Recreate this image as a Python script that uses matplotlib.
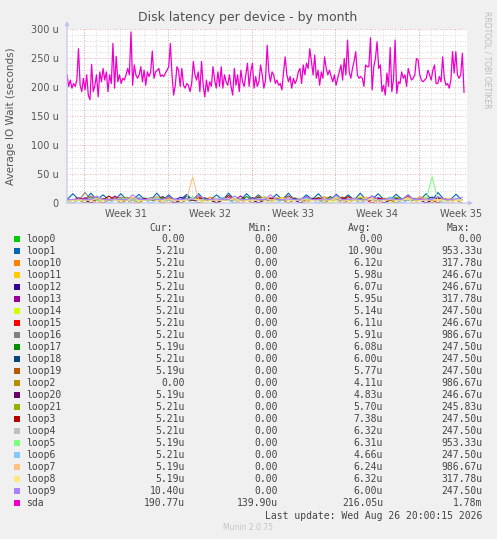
import numpy as np
import matplotlib
matplotlib.use('Agg')
from matplotlib import pyplot as plt
from matplotlib.patches import Rectangle

plt.rcParams['font.family'] = ['DejaVu Sans']

# --- data (values in micro seconds) ---
# sda, roughly every 3.3 hours over the 33 shown days
sda = [221, 201, 212, 198, 206, 201, 212, 266, 203, 192, 215, 195, 221, 186, 178, 239, 192, 203, 221, 183,
       226, 209, 232, 212, 226, 192, 221, 206, 275, 198, 253, 209, 221, 206, 215, 212, 221, 232, 221, 295,
       203, 238, 221, 215, 221, 235, 209, 229, 203, 226, 218, 226, 262, 215, 226, 229, 232, 218, 221, 218,
       224, 229, 235, 275,
       221, 186, 203, 235, 229, 201, 232, 203, 198, 206, 203, 192, 206, 244, 221, 212, 226, 192, 244, 203,
       183, 212, 192, 209, 201, 235, 212, 198, 226, 201, 235, 198, 221, 209, 203, 221, 201, 186, 232, 203,
       221, 192, 229, 209, 201, 221, 241, 201, 226, 241, 198, 218, 201, 209, 238, 221, 198, 212, 272, 226,
       209, 226, 221, 206, 212, 203, 206, 195, 226, 252, 221, 209, 218, 198, 215, 206, 212, 226, 232, 206,
       238, 221, 241, 232, 266, 244, 221, 255, 215, 229, 203, 226, 215, 252, 232, 221, 229, 218, 209, 221,
       203, 215, 226, 238, 212, 249, 221, 281, 226, 215, 232, 244, 261, 221, 215, 218, 215, 201, 238, 235,
       235, 285, 195, 235, 249, 278, 232, 238, 192, 203, 186, 224, 201, 268, 192, 212, 281, 189, 209, 206,
       226, 215, 221, 201, 232, 221, 212, 215, 221, 249, 247, 221, 212, 209, 212, 215, 229, 221, 212, 229,
       238, 206, 206, 218, 209, 252, 215, 203, 206, 198, 212, 261, 224, 261, 221, 215, 221, 258, 191]

# loops: one value every 12 h
loop0 = [0, 0, 0, 0, 0, 0, 0, 0, 0, 0, 0, 0, 0, 0, 0, 0, 0, 0, 0, 0, 0, 0, 0, 0, 0, 0, 0, 0, 0, 0, 0, 0, 0,
         0, 0, 0, 0, 0, 0, 0, 0, 0, 0, 0, 0, 0, 0, 0, 0, 0, 0, 0, 0, 0, 0, 0, 0, 0, 0, 0, 0, 0, 0, 0, 0, 0, 0]
loop1 = [6, 16, 5, 5, 17, 5, 14, 6, 5, 16, 5, 5, 15, 6, 5, 17, 5, 14, 5, 6, 15, 5, 16, 5, 6, 14, 5, 17, 5, 5, 16, 6, 14,
         5, 5, 15, 6, 17, 5, 5, 14, 6, 16, 5, 5, 15, 6, 14, 5, 17, 5, 6, 16, 5, 5, 15, 6, 14, 5, 5, 16, 5, 18, 6, 5, 15, 5]
loop10 = [5, 5, 7, 5, 12, 5, 5, 6, 5, 9, 5, 5, 6, 5, 5, 11, 5, 6, 5, 5, 8, 5, 5, 5, 10, 5, 6, 5, 5, 7, 5, 5, 12,
          5, 5, 6, 5, 5, 9, 5, 5, 6, 5, 11, 5, 5, 5, 7, 5, 5, 10, 5, 6, 5, 5, 8, 5, 5, 5, 11, 5, 6, 5, 5, 7, 5, 5]
loop11 = [5, 6, 5, 5, 9, 5, 0, 5, 7, 5, 5, 10, 5, 6, 5, 5, 5, 8, 5, 5, 6, 5, 11, 5, 5, 0, 7, 5, 5, 6, 5, 9, 5,
          5, 5, 6, 10, 5, 5, 5, 7, 5, 5, 6, 5, 9, 5, 0, 5, 11, 5, 6, 5, 5, 5, 8, 5, 5, 6, 5, 10, 5, 5, 5, 7, 5, 5]
loop12 = [5, 5, 6, 5, 5, 8, 5, 5, 5, 6, 9, 5, 5, 6, 5, 5, 7, 5, 5, 10, 5, 5, 6, 5, 5, 5, 8, 5, 5, 6, 5, 9, 5,
          5, 5, 7, 5, 5, 6, 5, 10, 5, 5, 5, 6, 5, 8, 5, 5, 5, 6, 5, 9, 5, 5, 6, 5, 5, 7, 5, 5, 5, 10, 5, 6, 5, 5]
loop13 = [6, 5, 5, 9, 5, 5, 6, 5, 12, 5, 5, 5, 7, 5, 5, 6, 11, 5, 5, 5, 6, 5, 5, 9, 5, 5, 6, 5, 5, 12, 5, 6, 5,
          5, 8, 5, 5, 5, 6, 5, 11, 5, 5, 6, 5, 5, 9, 5, 5, 5, 6, 12, 5, 5, 5, 7, 5, 5, 6, 5, 5, 10, 5, 5, 6, 5, 5]
loop14 = [5, 0, 5, 6, 5, 5, 8, 5, 5, 5, 6, 5, 0, 9, 5, 5, 5, 6, 5, 5, 7, 5, 5, 0, 5, 6, 5, 8, 5, 5, 5, 6, 5,
          5, 0, 7, 5, 5, 5, 6, 5, 9, 5, 5, 0, 5, 6, 5, 5, 8, 5, 5, 5, 6, 0, 5, 5, 7, 5, 5, 6, 5, 0, 5, 5, 6, 5]
loop15 = [5, 5, 5, 7, 5, 0, 5, 6, 5, 10, 5, 5, 6, 5, 5, 8, 5, 0, 5, 6, 5, 5, 11, 5, 5, 6, 5, 5, 7, 0, 5, 6, 5,
          5, 9, 5, 5, 6, 5, 5, 0, 7, 5, 5, 6, 5, 10, 5, 5, 6, 5, 0, 5, 8, 5, 5, 6, 5, 5, 9, 5, 5, 0, 6, 5, 5, 5]
loop16 = [5, 6, 5, 18, 6, 5, 5, 7, 5, 5, 6, 5, 9, 5, 5, 6, 5, 5, 7, 5, 5, 10, 5, 6, 5, 5, 5, 8, 5, 5, 6, 5, 5,
          9, 5, 5, 6, 5, 7, 5, 5, 5, 6, 5, 10, 5, 5, 6, 5, 5, 7, 5, 5, 5, 9, 5, 6, 5, 5, 6, 5, 8, 5, 5, 6, 5, 5]
loop17 = [5, 5, 6, 5, 5, 9, 5, 5, 6, 5, 5, 7, 5, 5, 6, 5, 10, 5, 5, 5, 6, 5, 5, 8, 5, 5, 6, 5, 5, 5, 11, 5, 5,
          6, 5, 5, 7, 5, 5, 6, 5, 5, 9, 5, 5, 6, 5, 5, 5, 8, 5, 5, 6, 5, 10, 5, 5, 5, 6, 5, 5, 7, 5, 5, 6, 5, 5]
loop18 = [6, 5, 5, 5, 10, 5, 6, 5, 5, 7, 5, 5, 6, 5, 9, 5, 5, 5, 6, 5, 12, 5, 5, 6, 5, 5, 7, 5, 5, 5, 6, 5, 10,
          5, 5, 6, 5, 5, 8, 5, 5, 6, 5, 5, 11, 5, 5, 6, 5, 5, 7, 5, 5, 5, 6, 9, 5, 5, 6, 5, 5, 10, 5, 5, 6, 5, 5]
loop19 = [5, 5, 7, 5, 5, 6, 5, 5, 9, 5, 6, 5, 5, 5, 8, 5, 5, 6, 5, 5, 5, 10, 5, 5, 6, 5, 5, 7, 5, 5, 6, 5, 5,
          9, 5, 5, 5, 6, 5, 8, 5, 5, 6, 5, 5, 5, 10, 5, 5, 6, 5, 7, 5, 5, 5, 6, 5, 9, 5, 5, 6, 5, 5, 8, 5, 5, 5]
loop2 = [0, 5, 5, 0, 6, 5, 0, 5, 7, 0, 5, 5, 0, 6, 5, 5, 0, 8, 5, 0, 5, 6, 0, 5, 5, 0, 7, 5, 0, 5, 6, 0, 5,
         5, 0, 9, 5, 0, 5, 6, 0, 5, 5, 0, 7, 5, 0, 5, 6, 0, 5, 5, 0, 8, 5, 0, 5, 6, 0, 5, 5, 0, 7, 5, 0, 5, 0]
loop20 = [5, 5, 6, 5, 0, 5, 7, 5, 5, 6, 5, 0, 5, 8, 5, 5, 6, 5, 0, 5, 7, 5, 5, 6, 5, 0, 5, 9, 5, 5, 6, 5, 0,
          5, 7, 5, 5, 6, 5, 0, 5, 8, 5, 5, 6, 5, 0, 5, 7, 5, 5, 6, 5, 0, 5, 9, 5, 5, 6, 5, 0, 5, 7, 5, 5, 6, 5]
loop21 = [5, 6, 5, 5, 8, 5, 5, 6, 5, 5, 10, 5, 5, 6, 5, 5, 7, 5, 5, 6, 5, 5, 9, 5, 5, 6, 5, 5, 8, 5, 5, 6, 5,
          11, 5, 5, 6, 5, 5, 7, 5, 5, 6, 5, 9, 5, 5, 6, 5, 5, 8, 5, 5, 6, 5, 10, 5, 5, 6, 5, 5, 7, 5, 5, 6, 5, 5]
loop3 = [6, 5, 9, 5, 5, 6, 5, 12, 5, 5, 6, 5, 8, 5, 5, 6, 5, 11, 5, 5, 6, 5, 9, 5, 5, 6, 5, 13, 5, 5, 6, 5, 8,
         5, 5, 6, 5, 12, 5, 5, 6, 5, 9, 5, 5, 6, 5, 11, 5, 5, 6, 5, 8, 5, 5, 6, 5, 12, 5, 5, 6, 5, 9, 5, 5, 6, 5]
loop4 = [5, 5, 6, 5, 9, 5, 5, 6, 5, 5, 8, 5, 5, 6, 5, 10, 5, 5, 6, 5, 5, 7, 5, 5, 6, 5, 9, 5, 5, 6, 5, 5, 8,
         5, 5, 6, 5, 10, 5, 5, 6, 5, 5, 7, 5, 5, 6, 5, 9, 5, 5, 6, 5, 5, 8, 5, 5, 6, 5, 10, 5, 5, 6, 5, 5, 7, 5]
loop5 = [5, 6, 5, 5, 7, 5, 5, 6, 5, 9, 5, 5, 6, 5, 5, 8, 5, 5, 6, 5, 5, 10, 5, 5, 6, 5, 5, 7, 5, 5, 6, 5, 5,
         9, 5, 5, 6, 5, 5, 8, 5, 5, 6, 5, 5, 10, 5, 5, 6, 5, 5, 7, 5, 5, 6, 5, 5, 9, 5, 5, 6, 45, 5, 5, 6, 5, 5]
loop6 = [5, 0, 6, 5, 5, 8, 5, 0, 5, 6, 5, 5, 9, 5, 0, 5, 6, 5, 5, 7, 5, 0, 5, 6, 5, 5, 10, 5, 0, 5, 6, 5, 5,
         8, 5, 0, 5, 6, 5, 5, 9, 5, 0, 5, 6, 5, 5, 7, 5, 0, 5, 6, 5, 5, 10, 5, 0, 5, 6, 5, 5, 8, 5, 0, 5, 6, 5]
loop7 = [5, 5, 6, 5, 5, 8, 5, 5, 6, 5, 5, 9, 5, 5, 6, 5, 5, 7, 5, 5, 6, 45, 5, 5, 6, 5, 5, 8, 5, 5, 6, 5, 5,
         10, 5, 5, 6, 5, 5, 7, 5, 5, 6, 5, 5, 9, 5, 5, 6, 5, 5, 8, 5, 5, 6, 5, 5, 10, 5, 5, 6, 5, 5, 7, 5, 5, 5]
loop8 = [0, 5, 5, 6, 5, 0, 5, 7, 5, 5, 6, 0, 5, 5, 8, 5, 5, 0, 6, 5, 5, 7, 5, 0, 5, 6, 5, 5, 9, 0, 5, 5, 6,
         5, 0, 5, 8, 5, 5, 6, 0, 5, 5, 7, 5, 5, 0, 6, 5, 5, 9, 5, 0, 5, 6, 5, 5, 7, 0, 5, 5, 6, 5, 5, 0, 5, 5]
loop9 = [6, 6, 7, 6, 6, 12, 6, 6, 7, 6, 6, 14, 6, 6, 7, 6, 6, 11, 6, 6, 7, 6, 13, 6, 6, 7, 6, 6, 12, 6, 6, 7, 6,
         6, 14, 6, 6, 7, 6, 6, 11, 6, 6, 7, 6, 13, 6, 6, 7, 6, 6, 12, 6, 6, 7, 6, 6, 14, 6, 6, 7, 6, 11, 6, 6, 7, 10]

names = ['loop0', 'loop1', 'loop10', 'loop11', 'loop12', 'loop13', 'loop14', 'loop15', 'loop16', 'loop17',
         'loop18', 'loop19', 'loop2', 'loop20', 'loop21', 'loop3', 'loop4', 'loop5', 'loop6', 'loop7',
         'loop8', 'loop9', 'sda']
series = [loop0, loop1, loop10, loop11, loop12, loop13, loop14, loop15, loop16, loop17,
          loop18, loop19, loop2, loop20, loop21, loop3, loop4, loop5, loop6, loop7,
          loop8, loop9, sda]
colors = ['#00CC00', '#0066B3', '#FF8000', '#FFCC00', '#330099', '#990099', '#CCFF00', '#FF0000',
          '#808080', '#008F00', '#00487D', '#B35A00', '#B38F00', '#6B006B', '#8FB300', '#B30000',
          '#BEBEBE', '#80FF80', '#80C9FF', '#FFC080', '#FFE680', '#AA80FF', '#EE00CC']
cur = ['0.00', '5.21u', '5.21u', '5.21u', '5.21u', '5.21u', '5.21u', '5.21u', '5.21u', '5.19u', '5.21u',
       '5.19u', '0.00', '5.19u', '5.21u', '5.21u', '5.21u', '5.19u', '5.21u', '5.19u', '5.19u', '10.40u',
       '190.77u']
mins = ['0.00'] * 22 + ['139.90u']
avgs = ['0.00', '10.90u', '6.12u', '5.98u', '6.07u', '5.95u', '5.14u', '6.11u', '5.91u', '6.08u', '6.00u',
        '5.77u', '4.11u', '4.83u', '5.70u', '7.38u', '6.32u', '6.31u', '4.66u', '6.24u', '6.32u', '6.00u',
        '216.05u']
maxs = ['0.00', '953.33u', '317.78u', '246.67u', '246.67u', '317.78u', '247.50u', '246.67u', '986.67u',
        '247.50u', '247.50u', '247.50u', '986.67u', '246.67u', '245.83u', '247.50u', '247.50u', '953.33u',
        '247.50u', '986.67u', '317.78u', '247.50u', '1.78m']

week_labels = ['Week 31', 'Week 32', 'Week 33', 'Week 34', 'Week 35']
week_pos = [4.92, 11.92, 18.92, 25.92, 32.92]   # days from start
yticks = [0, 50, 100, 150, 200, 250, 300]
ytick_labels = ['0', '50 u', '100 u', '150 u', '200 u', '250 u', '300 u']

W, H = 497, 539
fig = plt.figure(figsize=(W / 100, H / 100), dpi=100, facecolor='#F0F0F0')
ax = fig.add_axes([67 / W, 1 - 203 / H, 400 / W, 174 / H])
ax.set_facecolor('white')

x_end = 33.42
# grid
for d in np.arange(0.4167, x_end, 1.0):
    ax.axvline(d, color='#cccccc', lw=0.6, ls=(0, (1, 2)), zorder=0)
for d in np.arange(1.4167, x_end, 7.0):
    ax.axvline(d, color='#ee9898', lw=0.6, ls=(0, (1, 2)), zorder=0.5)
ax.axvline(x_end, color='#ee9898', lw=0.6, ls=(0, (1, 2)), zorder=0.5)
for v in range(10, 301, 10):
    if v % 50 == 0:
        ax.axhline(v, color='#ee9898', lw=0.6, ls=(0, (1, 2)), zorder=0.5)
    else:
        ax.axhline(v, color='#cccccc', lw=0.6, ls=(0, (1, 2)), zorder=0)

for name, vals, c in zip(names, series, colors):
    if name == 'sda':
        xs = np.linspace(0, 33.17, len(vals))
        ax.plot(xs, vals, color=c, lw=0.9, zorder=3)
    else:
        xs = np.arange(len(vals)) * 0.5
        ax.plot(xs, vals, color=c, lw=0.8, zorder=2)

ax.set_xlim(0, x_end)
ax.set_ylim(0, 300)
for s in ax.spines.values():
    s.set_visible(False)
ax.set_yticks(yticks)
ax.set_yticklabels(ytick_labels)
ax.set_xticks(week_pos)
ax.set_xticklabels(week_labels)
ax.tick_params(axis='both', length=0, labelsize=7, labelcolor='#555555', pad=4)
ax.tick_params(axis='y', pad=6)

# axes with arrows
axis_col = '#c0c0f0'
ax.annotate('', xy=(0, 1.045), xytext=(0, 0), xycoords='axes fraction',
            arrowprops=dict(arrowstyle='-|>', color=axis_col, lw=0.8, mutation_scale=6, shrinkA=0, shrinkB=0))
ax.annotate('', xy=(1.015, 0), xytext=(0, 0), xycoords='axes fraction',
            arrowprops=dict(arrowstyle='-|>', color=axis_col, lw=0.8, mutation_scale=6, shrinkA=0, shrinkB=0))

def px(x, y):
    return x / W, 1 - y / H

fig.text(*px(248, 18), 'Disk latency per device - by month', ha='center', va='center',
         fontsize=9, color='#505050')
fig.text(*px(11, 116), 'Average IO Wait (seconds)', ha='center', va='center', rotation=90,
         fontsize=7.5, color='#555555')
fig.text(*px(487, 60), 'RRDTOOL / TOBI OETIKER', ha='center', va='center', rotation=270,
         fontsize=5.5, color='#bbbbbb')

mono = 'DejaVu Sans Mono'
tcol = '#444444'
fig.text(*px(173, 228), 'Cur:', ha='right', va='center', family=mono, fontsize=7, color=tcol)
fig.text(*px(272, 228), 'Min:', ha='right', va='center', family=mono, fontsize=7, color=tcol)
fig.text(*px(371, 228), 'Avg:', ha='right', va='center', family=mono, fontsize=7, color=tcol)
fig.text(*px(470, 228), 'Max:', ha='right', va='center', family=mono, fontsize=7, color=tcol)
for k, name in enumerate(names):
    y = 239 + 12 * k
    fig.patches.append(Rectangle(px(14, y + 3), 6 / W, 6 / H, transform=fig.transFigure,
                                 facecolor=colors[k], edgecolor='none'))
    fig.text(*px(26.5, y), name, ha='left', va='center', family=mono, fontsize=7, color=tcol)
    fig.text(*px(185, y), cur[k], ha='right', va='center', family=mono, fontsize=7, color=tcol)
    fig.text(*px(278, y), mins[k], ha='right', va='center', family=mono, fontsize=7, color=tcol)
    fig.text(*px(383, y), avgs[k], ha='right', va='center', family=mono, fontsize=7, color=tcol)
    fig.text(*px(482, y), maxs[k], ha='right', va='center', family=mono, fontsize=7, color=tcol)

fig.text(*px(482, 516), 'Last update: Wed Aug 26 20:00:15 2026', ha='right', va='center',
         family=mono, fontsize=7, color=tcol)
fig.text(*px(248, 528), 'Munin 2.0.75', ha='center', va='center', fontsize=5.5, color='#c4c4c4')

fig.savefig('out.png', dpi=100, facecolor=fig.get_facecolor())
